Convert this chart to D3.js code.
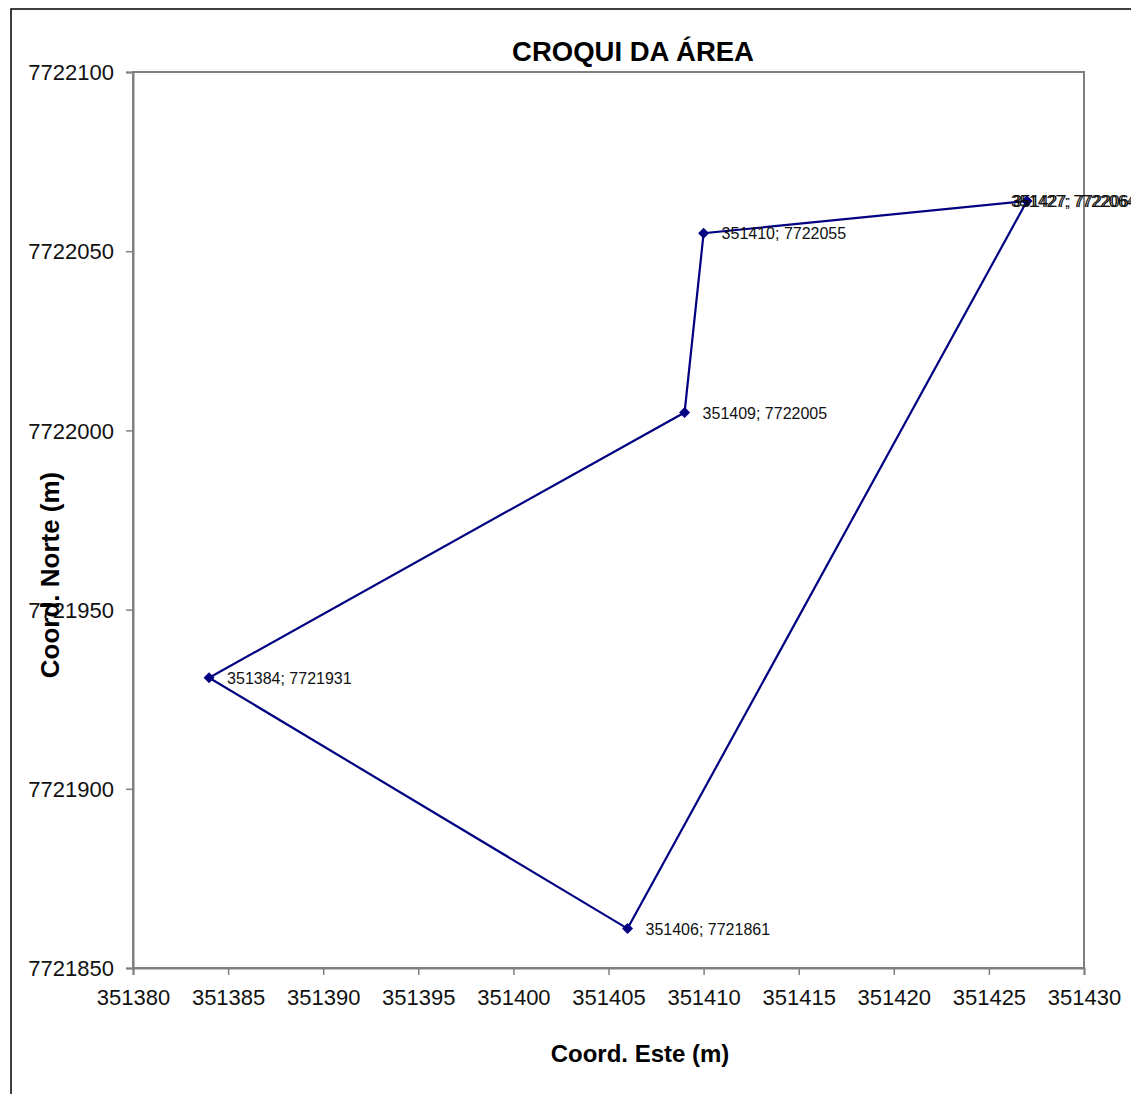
<!DOCTYPE html>
<html><head><meta charset="utf-8">
<script src="https://cdn.jsdelivr.net/npm/d3@7"></script>
<style>
html,body{margin:0;padding:0;background:#fff;overflow:hidden;}
svg{display:block;font-family:Arial,"Liberation Sans",sans-serif;}
</style></head>
<body>
<svg id="c" width="1131" height="1094"></svg>
<script>
// Data (polygon vertices in drawing order, closed)
const este  = [351427, 351406, 351384, 351409, 351410, 351427];
const norte = [7722064, 7721861, 7721931, 7722005, 7722055, 7722064];
const xTicks = [351380,351385,351390,351395,351400,351405,351410,351415,351420,351425,351430];
const yTicks = [7721850,7721900,7721950,7722000,7722050,7722100];
const titleText = "CROQUI DA ÁREA";
const xTitle = "Coord. Este (m)";
const yTitle = "Coord. Norte (m)";

const svg = d3.select("#c");
const W = 1131, H = 1094;
const L = 133, R = 1084, T = 72, B = 968;

// outer chart border (left and top visible)
svg.append("rect").attr("x",11).attr("y",9).attr("width",W+20).attr("height",H+20)
  .attr("fill","#fff").attr("stroke","#000").attr("stroke-width",1.5);

const x = d3.scaleLinear().domain([351380,351430]).range([L,R]);
const y = d3.scaleLinear().domain([7721850,7722100]).range([B,T]);

// plot area border
svg.append("rect").attr("x",L).attr("y",T).attr("width",R-L).attr("height",B-T)
  .attr("fill","none").attr("stroke","#808080").attr("stroke-width",2);

const xAxis = svg.append("g").attr("transform",`translate(0,${B})`)
  .call(d3.axisBottom(x).tickValues(xTicks).tickFormat(d3.format("d")).tickSize(7).tickPadding(14));
const yAxis = svg.append("g").attr("transform",`translate(${L},0)`)
  .call(d3.axisLeft(y).tickValues(yTicks).tickFormat(d3.format("d")).tickSize(7).tickPadding(12));
[xAxis,yAxis].forEach(a=>{
  a.select(".domain").attr("stroke","#808080").attr("stroke-width",2);
  a.selectAll(".tick line").attr("stroke","#808080").attr("stroke-width",1.5);
  a.selectAll(".tick text").attr("fill","#111").style("font-size","22px")
   .style("font-family","Arial, 'Liberation Sans', sans-serif");
});
yAxis.selectAll(".tick text").attr("dy","0.35em");

// line
const pts = este.map((e,i)=>({e, n:norte[i], i}));
svg.append("path").datum(pts)
  .attr("d", d3.line().x(d=>x(d.e)).y(d=>y(d.n)))
  .attr("fill","none").attr("stroke","#000080").attr("stroke-width",2.2);

// markers (diamond = rotated square)
svg.selectAll(".mk").data(pts).join("path").attr("class","mk")
  .attr("transform",d=>`translate(${x(d.e)},${y(d.n)}) rotate(45)`)
  .attr("d", d3.symbol().type(d3.symbolSquare).size(60))
  .attr("fill","#000080");

// data labels
svg.selectAll(".lb").data(pts).join("text").attr("class","lb")
  .attr("x", d => {
    const px = x(d.e);
    if (px > 1000) return px - 16 + (d.i === 0 ? 0 : 2);
    return px + 18;
  })
  .attr("y", d=>y(d.n)).attr("dy","0.38em")
  .style("font-size","16px").attr("fill","#111")
  .text(d=>`${d.e}; ${d.n}`);

// titles
svg.append("text").attr("x",633).attr("y",61).attr("text-anchor","middle")
  .style("font-size","27.5px").style("font-weight","bold").attr("fill","#000").text(titleText);
svg.append("text").attr("x",640).attr("y",1062).attr("text-anchor","middle")
  .style("font-size","24px").style("font-weight","bold").attr("fill","#000").text(xTitle);
svg.append("text").attr("transform","translate(59,575) rotate(-90)").attr("text-anchor","middle")
  .style("font-size","26px").style("font-weight","bold").attr("fill","#000").text(yTitle);
</script>
</body></html>
